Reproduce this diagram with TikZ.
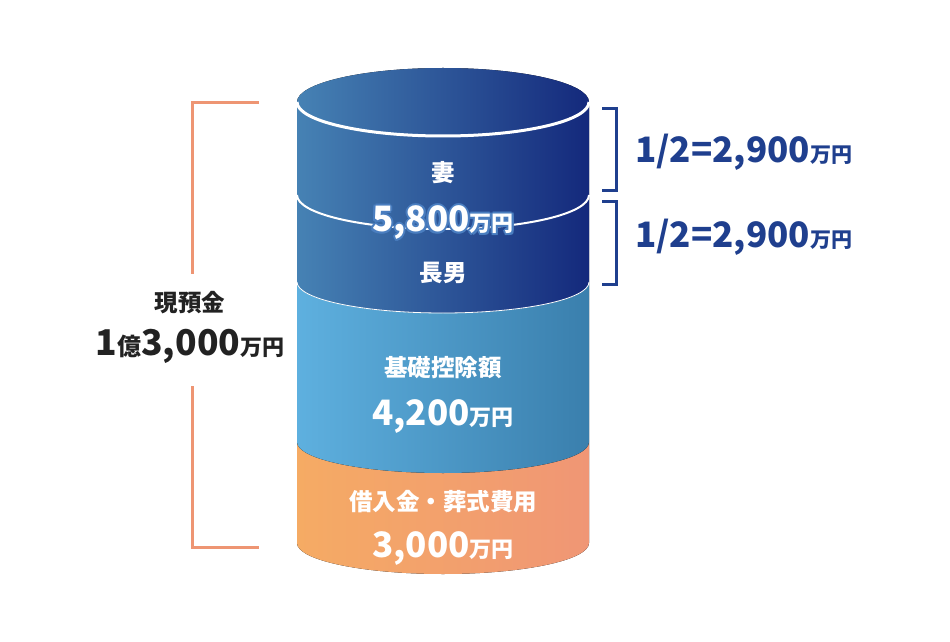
\documentclass[tikz,border=0pt]{standalone}
\usepackage{fontspec}
\setmainfont{Noto Sans CJK JP}
\definecolor{dka}{HTML}{4682B4}
\definecolor{dkb}{HTML}{14297C}
\definecolor{lba}{HTML}{5EB0DF}
\definecolor{lbb}{HTML}{3A7FAD}
\definecolor{ora}{HTML}{F5AB64}
\definecolor{orb}{HTML}{F09675}
\definecolor{brk}{HTML}{EE9573}
\definecolor{navy}{HTML}{1F3F8E}
\definecolor{ink}{HTML}{222222}
\definecolor{glowc}{HTML}{4A7EC0}
\newcommand{\yen}{{\fontsize{22}{22}\selectfont 万円}}
\begin{document}
\begin{tikzpicture}[x=1pt,y=1pt,
  lbl/.style={text=white,font=\bfseries\fontsize{23.5}{23.5}\selectfont,inner sep=0pt},
  amt/.style={text=white,font=\bfseries\fontsize{35}{35}\selectfont,inner sep=0pt,anchor=base},
  side/.style={text=navy,font=\bfseries\fontsize{35}{35}\selectfont,inner sep=0pt,anchor=base west},
  obrk/.style={draw=brk,line width=3pt},
  bbrk/.style={draw=navy,line width=3pt},
  rim/.style={draw=white}
]
\useasboundingbox (0,0) rectangle (950,641);
% cylinder sections
\fill[left color=ora,right color=orb] (297,199) -- (297,98) arc[start angle=180,end angle=360,x radius=146,y radius=31] -- (589,199) -- cycle;
\fill[left color=lba,right color=lbb] (297,359) -- (297,199) arc[start angle=180,end angle=360,x radius=146,y radius=31] -- (589,359) -- cycle;
\fill[left color=dka,right color=dkb] (297,539) -- (297,359) arc[start angle=180,end angle=360,x radius=146,y radius=31] -- (589,539) arc[start angle=0,end angle=180,x radius=146,y radius=34] -- cycle;
% rims
\draw[rim,line width=3pt] (297,539) arc[start angle=180,end angle=360,x radius=146,y radius=34];
\draw[rim,line width=2pt] (297,446) arc[start angle=180,end angle=360,x radius=146,y radius=34];
\draw[rim,line width=0.8pt] (297,359) arc[start angle=180,end angle=360,x radius=146,y radius=31];
% labels in cylinder
\node[lbl] (wife) at (443,468.5) {妻};
\foreach \a [count=\i] in {0,45,...,315}
  \node[amt,text=glowc,shift={(\a:2pt)}] (glow\i) at (443,409) {5,800\yen};
\node[amt] (share) at (443,409) {5,800\yen};
\node[lbl] (son) at (443,368.5) {長男};
\node[lbl] (basic) at (443,273) {基礎控除額};
\node[amt] (basicv) at (443,216) {4,200\yen};
\node[lbl] (debt) at (443,139) {借入金・葬式費用};
\node[amt] (debtv) at (443,84) {3,000\yen};
% left bracket
\coordinate (lt) at (259,538);
\coordinate (lc) at (192,538);
\coordinate (lm1) at (192,367);
\coordinate (lm2) at (192,255);
\coordinate (lbc) at (192,94);
\coordinate (lb) at (259,94);
\draw[obrk] (lt) -- (lc) -- (lm1);
\draw[obrk] (lm2) -- (lbc) -- (lb);
\node[text=ink,font=\bfseries\fontsize{23.5}{23.5}\selectfont,inner sep=0pt] (cash) at (190,338.5) {現預金};
\node[text=ink,font=\bfseries\fontsize{35.5}{35.5}\selectfont,inner sep=0pt,anchor=base] (cashv) at (190,286) {1{\fontsize{24}{24}\selectfont 億}3,000\yen};
% right brackets
\coordinate (ra1) at (602,532);
\coordinate (ra2) at (616,532);
\coordinate (ra3) at (616,450);
\coordinate (ra4) at (602,450);
\coordinate (rb1) at (602,439);
\coordinate (rb2) at (616,439);
\coordinate (rb3) at (616,357);
\coordinate (rb4) at (602,357);
\draw[bbrk] (ra1) -- (ra2) -- (ra3) -- (ra4);
\draw[bbrk] (rb1) -- (rb2) -- (rb3) -- (rb4);
\node[side] (halfa) at (635,478) {1/2=2,900{\fontsize{21}{21}\selectfont 万円}};
\node[side] (halfb) at (635,393) {1/2=2,900{\fontsize{21}{21}\selectfont 万円}};
\end{tikzpicture}
\end{document}
